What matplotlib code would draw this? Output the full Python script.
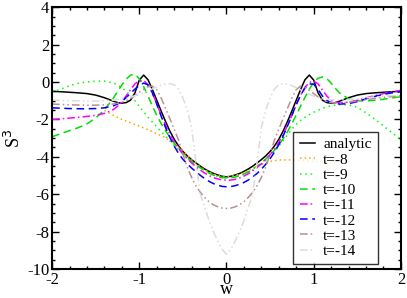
import matplotlib
matplotlib.use("Agg")
import matplotlib.pyplot as plt
from matplotlib.ticker import MultipleLocator

# shared w grid for most curves
w = [-2.0, -1.9, -1.8, -1.7, -1.6, -1.5, -1.4,
     -1.3, -1.25, -1.2, -1.15, -1.1, -1.05, -1.0, -0.95, -0.9, -0.85, -0.8, -0.75, -0.7, -0.65,
     -0.6, -0.55, -0.5, -0.45, -0.4, -0.35, -0.3, -0.25, -0.2, -0.15, -0.1, -0.05, 0.0,
     0.05, 0.1, 0.15, 0.2, 0.25, 0.3, 0.35, 0.4, 0.45, 0.5, 0.55, 0.6, 0.65, 0.7, 0.75,
     0.8, 0.85, 0.9, 0.95, 1.0, 1.05, 1.1, 1.15, 1.2, 1.25, 1.3,
     1.4, 1.5, 1.6, 1.7, 1.8, 1.9, 2.0]

analytic = [-0.50, -0.52, -0.55, -0.58, -0.62, -0.70, -0.84,
            -1.02, -1.10, -1.13, -1.10, -0.97, -0.58, 0.10, 0.37, 0.12, -0.40, -0.97, -1.55, -2.10, -2.62,
            -3.06, -3.42, -3.71, -3.95, -4.15, -4.33, -4.50, -4.65, -4.78, -4.89, -4.97, -5.04, -5.07,
            -5.04, -4.97, -4.89, -4.78, -4.65, -4.50, -4.33, -4.15, -3.95, -3.71, -3.42, -3.06, -2.62, -2.10, -1.55,
            -0.97, -0.40, 0.12, 0.37, 0.10, -0.58, -0.97, -1.10, -1.13, -1.10, -1.02,
            -0.84, -0.70, -0.62, -0.58, -0.55, -0.52, -0.50]

t9 = [-0.55, -0.38, -0.20, -0.07, 0.00, 0.04, 0.05,
      -0.05, -0.15, -0.30, -0.50, -0.72, -1.00, -1.30, -1.60, -1.88, -2.14, -2.40, -2.65, -2.90, -3.15,
      -3.39, -3.62, -3.84, -4.05, -4.24, -4.42, -4.58, -4.73, -4.86, -4.97, -5.05, -5.10, -5.11,
      -5.10, -5.07, -5.01, -4.93, -4.83, -4.71, -4.56, -4.39, -4.19, -3.96, -3.71, -3.43, -3.13, -2.82, -2.52,
      -2.26, -2.05, -1.88, -1.74, -1.62, -1.51, -1.41, -1.33, -1.27, -1.23, -1.21,
      -1.22, -1.35, -1.65, -1.98, -2.35, -2.72, -3.08]

t10 = [-2.93, -2.76, -2.60, -2.44, -2.24, -1.92, -1.50,
       -0.88, -0.52, -0.16, 0.15, 0.37, 0.40, 0.18, -0.25, -0.75, -1.28, -1.78, -2.22, -2.60, -2.95,
       -3.27, -3.56, -3.82, -4.05, -4.25, -4.43, -4.59, -4.74, -4.87, -4.98, -5.06, -5.11, -5.13,
       -5.12, -5.08, -5.01, -4.92, -4.80, -4.66, -4.50, -4.32, -4.12, -3.90, -3.65, -3.36, -3.03, -2.65, -2.22,
       -1.76, -1.28, -0.82, -0.38, -0.02, 0.20, 0.27, 0.18, -0.06, -0.35, -0.60,
       -0.90, -1.00, -1.01, -0.98, -0.92, -0.85, -0.79]

t11 = [-2.00, -1.97, -1.93, -1.89, -1.84, -1.78, -1.68,
       -1.48, -1.30, -1.05, -0.74, -0.40, -0.10, 0.07, 0.08, -0.15, -0.60, -1.15, -1.75, -2.30, -2.78,
       -3.19, -3.54, -3.84, -4.10, -4.33, -4.53, -4.71, -4.87, -5.00, -5.11, -5.18, -5.23, -5.25,
       -5.24, -5.20, -5.13, -5.03, -4.90, -4.75, -4.57, -4.37, -4.14, -3.88, -3.58, -3.22, -2.80, -2.32, -1.78,
       -1.22, -0.70, -0.28, -0.02, 0.05, -0.10, -0.42, -0.75, -0.98, -1.08, -1.11,
       -1.08, -0.98, -0.85, -0.73, -0.62, -0.53, -0.45]

t12 = [-1.38, -1.40, -1.42, -1.43, -1.43, -1.42, -1.38,
       -1.28, -1.18, -1.03, -0.83, -0.60, -0.38, -0.18, -0.06, -0.15, -0.58, -1.18, -1.82, -2.42, -2.96,
       -3.42, -3.82, -4.13, -4.38, -4.60, -4.80, -4.99, -5.16, -5.31, -5.43, -5.52, -5.58, -5.60,
       -5.59, -5.54, -5.47, -5.37, -5.24, -5.08, -4.89, -4.66, -4.40, -4.10, -3.75, -3.35, -2.88, -2.35, -1.78,
       -1.20, -0.70, -0.32, -0.10, -0.12, -0.40, -0.75, -0.98, -1.10, -1.16, -1.18,
       -1.16, -1.05, -0.90, -0.77, -0.66, -0.58, -0.52]

t13 = [-1.18, -1.20, -1.22, -1.23, -1.24, -1.24, -1.22,
       -1.18, -1.14, -1.08, -1.00, -0.88, -0.72, -0.55, -0.38, -0.25, -0.22, -0.40, -0.85, -1.40, -1.95,
       -2.52, -3.10, -3.85, -4.55, -5.10, -5.55, -5.90, -6.17, -6.40, -6.56, -6.67, -6.74, -6.76,
       -6.74, -6.67, -6.56, -6.40, -6.17, -5.90, -5.55, -5.10, -4.55, -3.85, -3.10, -2.52, -1.95, -1.40, -0.85,
       -0.40, -0.22, -0.30, -0.45, -0.62, -0.80, -0.95, -1.05, -1.10, -1.12, -1.12,
       -1.08, -1.02, -0.95, -0.88, -0.82, -0.78, -0.74]

t14 = [-0.97, -0.99, -1.00, -1.01, -1.02, -1.02, -1.00,
       -0.97, -0.94, -0.90, -0.85, -0.80, -0.74, -0.67, -0.58, -0.48, -0.37, -0.26, -0.17, -0.11, -0.09,
       -0.15, -0.38, -0.85, -1.50, -2.45, -4.30, -6.00, -6.70, -7.40, -8.00, -8.50, -8.95, -9.20,
       -8.95, -8.50, -8.00, -7.40, -6.70, -6.00, -4.30, -2.45, -1.50, -0.85, -0.38, -0.15, -0.09, -0.12, -0.20,
       -0.30, -0.42, -0.55, -0.66, -0.75, -0.82, -0.88, -0.92, -0.95, -0.96, -0.96,
       -0.94, -0.90, -0.85, -0.80, -0.76, -0.72, -0.70]

# t=-8 only covers part of the range
w8 = [-1.4, -1.3, -1.2, -1.1, -1.0, -0.9, -0.8, -0.7, -0.6, -0.5, -0.4, -0.3, -0.2, -0.1, 0.0,
      0.1, 0.2, 0.3, 0.4, 0.5, 0.6, 0.7, 0.8, 0.9, 1.0, 1.1, 1.2]
t8 = [-1.52, -1.78, -2.00, -2.18, -2.36, -2.55, -2.76, -2.98, -3.28, -3.70, -4.15, -4.55, -4.82, -5.00, -5.07,
      -5.00, -4.84, -4.62, -4.40, -4.24, -4.17, -4.16, -4.18, -4.21, -4.24, -4.27, -4.30]

plt.rcParams['font.family'] = ['Liberation Serif', 'DejaVu Serif']
plt.rcParams['axes.unicode_minus'] = False

fig = plt.figure(figsize=(4.07, 2.98), dpi=100)
ax = fig.add_axes([0.128, 0.097, 0.857, 0.879])

lw = 1.1
ax.plot(w, analytic, color='black', lw=lw, label='analytic')
ax.plot(w8, t8, color='#ffa500', lw=lw, linestyle=(0, (1, 2)), label='t=-8')
ax.plot(w, t9, color='#00ff00', lw=lw, linestyle=(0, (1, 2.5)), label='t=-9')
ax.plot(w, t10, color='#00e000', lw=lw, linestyle=(0, (5, 3)), label='t=-10')
ax.plot(w, t11, color='#ff00ff', lw=lw, linestyle=(0, (5, 2, 1, 2)), label='t=-11')
ax.plot(w, t12, color='#0000ff', lw=lw, linestyle=(0, (5, 3)), label='t=-12')
ax.plot(w, t13, color='#bc8f8f', lw=lw, linestyle=(0, (5, 2, 1, 2, 1, 2)), label='t=-13')
ax.plot(w, t14, color='#dcdcdc', lw=lw, linestyle=(0, (5, 2, 1, 2, 1, 2)), label='t=-14')

ax.set_xlim(-2, 2)
ax.set_ylim(-10, 4)
ax.xaxis.set_major_locator(MultipleLocator(1))
ax.xaxis.set_minor_locator(MultipleLocator(0.2))
ax.yaxis.set_major_locator(MultipleLocator(2))
ax.yaxis.set_minor_locator(MultipleLocator(0.5))
ax.tick_params(which='both', direction='in', top=True, right=True, labelsize=12, width=1)
ax.tick_params(which='major', length=5, pad=2)
ax.tick_params(which='minor', length=2.5)
for s in ax.spines.values():
    s.set_linewidth(1.5)

ax.set_xlabel('w', fontsize=13, labelpad=-5)
ax.set_ylabel('S$^3$', fontsize=13, labelpad=2)

leg = ax.legend(loc='lower right', bbox_to_anchor=(0.934, 0.019), borderaxespad=0,
                fontsize=11, frameon=True, fancybox=False, edgecolor='black',
                handlelength=1.0, handletextpad=0.55, labelspacing=0.1, borderpad=0.4)
leg.get_frame().set_linewidth(1.0)

fig.savefig('out.png', dpi=100)
